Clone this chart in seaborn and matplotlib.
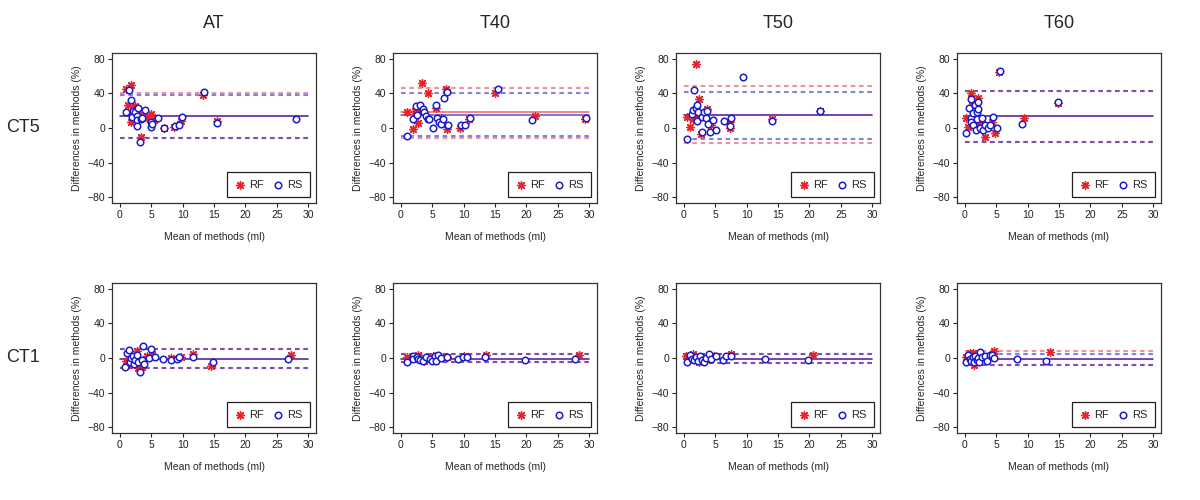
import numpy as np
import pandas as pd
import seaborn as sns
import matplotlib.pyplot as plt

# Bland-Altman style panels: rows CT5 / CT1, columns AT / T40 / T50 / T60
col_names = ['AT', 'T40', 'T50', 'T60']
row_names = ['CT5', 'CT1']

# ---- CT5 ----
ct5_at_rf_x = [0.96, 1.76, 1.33, 2.4, 1.86, 3.36, 5.06, 5.5, 7.0, 8.7, 9.7, 13.3, 15.5, 2.9, 3.8, 4.4]
ct5_at_rf_y = [45, 49.4, 26.8, 25, 6.9, -10.3, 15.7, 9, 0, 1, 8, 38, 8, 18, 14, 12]
ct5_at_rs_x = [0.96, 1.49, 1.75, 1.9, 2.2, 2.4, 2.7, 2.8, 2.7, 3.0, 3.3, 3.4, 3.6, 4.0, 5.0, 5.0, 5.1, 6.1,
               7.0, 8.8, 9.5, 9.9, 13.4, 15.4, 28.0]
ct5_at_rs_y = [18.4, 43.3, 31.8, 13, 20, 18, 14, 9, 2.3, 22.6, -16.5, 10, 12, 20.7, 7, 1, 5, 11,
               0, 2, 4, 12.2, 41, 6, 10]

ct5_t40_rf_x = [1.1, 1.9, 2.3, 2.8, 3.45, 4.3, 5.6, 7.17, 7.3, 9.5, 10.8, 15.0, 21.3, 29.3, 3.0, 6.4]
ct5_t40_rf_y = [18.4, -0.8, 20, 5.4, 52, 40.6, 23, 45, -1, 0, 10, 40.6, 13.4, 10, 19, 12]
ct5_t40_rs_x = [0.96, 2.0, 2.4, 2.6, 3.1, 3.5, 3.8, 4.0, 4.3, 4.5, 5.1, 5.7, 5.8, 6.1, 6.5, 6.7, 6.9,
                7.3, 7.5, 9.6, 10.3, 11.1, 15.4, 20.9, 29.4]
ct5_t40_rs_y = [-9.2, 10, 25, 15, 27, 22, 18, 14, 10, 10, -0.4, 26, 12, 7, 5, 10, 34,
                41.3, 3, 3, 4, 12, 44.4, 9, 11]

ct5_t50_rf_x = [1.92, 0.5, 1.0, 1.5, 2.4, 2.8, 3.7, 4.4, 7.3, 7.4, 14.1, 21.6, 2.0, 3.2]
ct5_t50_rf_y = [73.9, 13, 1.1, 10, 33.7, -7.3, 22, 3, 0, 7, 10, 20, 12, 15]
ct5_t50_rs_x = [0.53, 1.65, 1.3, 1.5, 1.9, 2.1, 2.3, 2.2, 2.9, 2.9, 3.2, 3.6, 3.8, 3.9, 4.2, 4.6, 5.2,
                6.5, 7.4, 7.6, 9.4, 14.0, 21.6]
ct5_t50_rs_y = [-12.6, 43.3, 16, 21, 23, 26, 18, 8, 13, -4.2, 18, 11, 20, 5, -5, 9, -2,
                8, 2, 11, 58.6, 8, 20]

ct5_t60_rf_x = [0.3, 0.6, 1.0, 1.2, 2.2, 2.7, 3.3, 4.3, 4.9, 5.5, 9.4, 14.9, 1.5, 1.9]
ct5_t60_rf_y = [12, 1, 40.6, 26, 34, 5, -10, 7, -6, 65, 12, 29, 8, 3]
ct5_t60_rs_x = [0.3, 0.7, 1.0, 1.0, 1.1, 1.3, 1.4, 1.7, 1.8, 1.9, 2.0, 2.1, 2.2, 2.5, 2.7, 3.0, 3.3,
                3.7, 4.1, 4.5, 5.1, 5.7, 9.1, 14.9]
ct5_t60_rs_y = [-6, 23, 33, 12, 7, 17, 4, 26, -2, 10, 18, 22, 30, 0, 11, -2, 4,
                0, 3, 13, 0, 66, 5, 30]

# ---- CT1 ----
ct1_at_rf_x = [1.0, 1.3, 2.7, 3.0, 3.5, 4.3, 5.1, 8.2, 9.7, 11.7, 14.5, 27.2]
ct1_at_rf_y = [-3, -8, 8, -12, -10, 2, 5, 0, 1, 5, -9, 4]
ct1_at_rs_x = [0.9, 1.2, 1.5, 1.6, 1.8, 2.1, 2.3, 2.5, 2.8, 3.0, 3.2, 3.5, 3.7, 3.9, 4.6, 5.0, 5.6,
               6.9, 8.1, 9.2, 9.4, 11.6, 14.8, 26.7]
ct1_at_rs_y = [-10, 6, 9, -5, 0, 2, -7, -2, 3, -5, -16, -2, 14, -7, 0, 10, 1,
               -1, -2, -1, 1, 1, -5, -1]

ct1_t40_rf_x = [1.0, 2.7, 3.7, 5.2, 7.3, 10.0, 13.5, 28.3]
ct1_t40_rf_y = [1, 4, -4, 2, 1, 2, 4, 3]
ct1_t40_rs_x = [1.0, 1.9, 2.0, 2.6, 2.7, 3.1, 3.6, 4.1, 4.6, 5.0, 5.4, 5.7, 6.0, 6.4, 7.4, 9.2, 9.9,
                10.5, 13.4, 19.8, 27.7]
ct1_t40_rs_y = [-5, 2, -1, 1, -1, -2, -3, 1, -1, -3, 2, -4, 4, 0, 1, -1, 1,
                1, 1, -2, -1]

ct1_t50_rf_x = [0.4, 1.5, 2.4, 3.4, 4.8, 7.5, 20.5]
ct1_t50_rf_y = [2, 5, -5, -1, 2, 5, 4]
ct1_t50_rs_x = [0.5, 1.0, 1.3, 1.7, 2.0, 2.3, 2.6, 2.9, 3.3, 3.6, 4.0, 4.3, 5.1, 6.2, 6.8, 7.5, 12.9, 19.8]
ct1_t50_rs_y = [-5, 3, -1, -2, 1, -4, 2, -2, -5, 0, 5, -1, 2, -2, 2, 2, -1, -2]

ct1_t60_rf_x = [0.2, 0.9, 1.3, 1.5, 2.2, 4.6, 13.6]
ct1_t60_rf_y = [1, 6, 6, -8, -3, 8, 7]
ct1_t60_rs_x = [0.3, 0.5, 0.8, 1.1, 1.3, 1.5, 1.7, 1.9, 2.1, 2.3, 2.5, 2.8, 3.2, 3.6, 4.0, 4.4, 4.6, 8.4, 12.9]
ct1_t60_rs_y = [-5, 4, -1, -3, 1, -5, 2, -2, 0, -5, 7, 1, 2, -3, 3, 3, 0, -1, -4]

# mean bias and limits of agreement (mean, upper, lower) for RF and RS
rf_limits = [[(13.4, 40.6, -11.5), (18.0, 46.3, -11.9), (14.5, 48.2, -17.6), (13.4, 43.0, -16.5)],
             [(-1.0, 10.7, -11.9), (-1.0, 4.6, -5.0), (-1.0, 5.0, -5.7), (-1.0, 8.4, -7.7)]]
rs_limits = [[(13.4, 37.5, -11.5), (15.3, 40.6, -9.6), (14.5, 41.7, -13.0), (13.4, 43.0, -16.5)],
             [(-1.0, 10.7, -11.9), (-1.0, 4.6, -5.0), (-1.0, 5.0, -5.7), (-1.0, 5.0, -7.7)]]

panels = [
    [(ct5_at_rf_x, ct5_at_rf_y, ct5_at_rs_x, ct5_at_rs_y),
     (ct5_t40_rf_x, ct5_t40_rf_y, ct5_t40_rs_x, ct5_t40_rs_y),
     (ct5_t50_rf_x, ct5_t50_rf_y, ct5_t50_rs_x, ct5_t50_rs_y),
     (ct5_t60_rf_x, ct5_t60_rf_y, ct5_t60_rs_x, ct5_t60_rs_y)],
    [(ct1_at_rf_x, ct1_at_rf_y, ct1_at_rs_x, ct1_at_rs_y),
     (ct1_t40_rf_x, ct1_t40_rf_y, ct1_t40_rs_x, ct1_t40_rs_y),
     (ct1_t50_rf_x, ct1_t50_rf_y, ct1_t50_rs_x, ct1_t50_rs_y),
     (ct1_t60_rf_x, ct1_t60_rf_y, ct1_t60_rs_x, ct1_t60_rs_y)],
]

sns.set_theme(style='ticks')
plt.rcParams['font.family'] = ['Liberation Sans', 'DejaVu Sans']
plt.rcParams['axes.linewidth'] = 0.9
plt.rcParams['xtick.major.size'] = 3
plt.rcParams['ytick.major.size'] = 3

RED = '#e8242a'
BLUE = '#1c1cc8'
DASH = (0, (2.2, 1.8))

fig = plt.figure(figsize=(12, 5), dpi=100)

col_left = [112, 393, 676, 957]
row_top = [53, 283]
w_px, h_px = 204, 150

for r in range(2):
    for c in range(4):
        ax = fig.add_axes([col_left[c] / 1200, 1 - (row_top[r] + h_px) / 500, w_px / 1200, h_px / 500])
        rf_x, rf_y, rs_x, rs_y = panels[r][c]

        m, up, lo = rf_limits[r][c]
        ax.axhline(m, xmin=0.04, xmax=0.96, color=RED, lw=1.1, alpha=0.7)
        ax.axhline(up, xmin=0.04, xmax=0.96, color=RED, lw=1.5, ls=DASH, alpha=0.5)
        ax.axhline(lo, xmin=0.04, xmax=0.96, color=RED, lw=1.5, ls=DASH, alpha=0.5)
        m, up, lo = rs_limits[r][c]
        ax.axhline(m, xmin=0.04, xmax=0.96, color=BLUE, lw=1.1, alpha=0.75)
        ax.axhline(up, xmin=0.04, xmax=0.96, color=BLUE, lw=1.5, ls=DASH, alpha=0.55)
        ax.axhline(lo, xmin=0.04, xmax=0.96, color=BLUE, lw=1.5, ls=DASH, alpha=0.55)

        rf = pd.DataFrame({'x': rf_x, 'y': rf_y})
        rs = pd.DataFrame({'x': rs_x, 'y': rs_y})
        sns.scatterplot(data=rf, x='x', y='y', ax=ax, marker=(8, 2, 0), color=RED,
                        s=32, linewidth=1.0, label='RF', zorder=3)
        sns.scatterplot(data=rs, x='x', y='y', ax=ax, marker='o', facecolor='white',
                        edgecolor=BLUE, s=22, linewidth=1.1, label='RS', zorder=4)

        ax.set_xlim(-1.2, 31.2)
        ax.set_ylim(-86.4, 86.4)
        ax.set_xticks(np.arange(0, 31, 5))
        ax.set_yticks([-80, -40, 0, 40, 80])
        ax.tick_params(labelsize=7.5, width=0.8, pad=2, colors='#222222')
        for sp in ax.spines.values():
            sp.set_visible(True)
            sp.set_color('#333333')
        ax.set_xlabel('Mean of methods (ml)', fontsize=7.5, labelpad=9)
        ax.set_ylabel('Differences in methods (%)', fontsize=7.5, labelpad=4)

        leg = ax.legend(loc='lower right', ncol=2, frameon=True, fancybox=False,
                        fontsize=8, handletextpad=0.3, columnspacing=0.8,
                        borderpad=0.7, handlelength=1.0, borderaxespad=0.5)
        leg.get_frame().set_edgecolor('#222222')
        leg.get_frame().set_linewidth(0.9)
        leg.get_frame().set_alpha(1)

for c, name in enumerate(col_names):
    fig.text((col_left[c] + w_px / 2) / 1200, 1 - 23 / 500, name, ha='center', va='center', fontsize=13)
for r, name in enumerate(row_names):
    fig.text(23 / 1200, 1 - (row_top[r] + 75) / 500, name, ha='center', va='center', fontsize=13)

fig.savefig('out.png', dpi=100)
